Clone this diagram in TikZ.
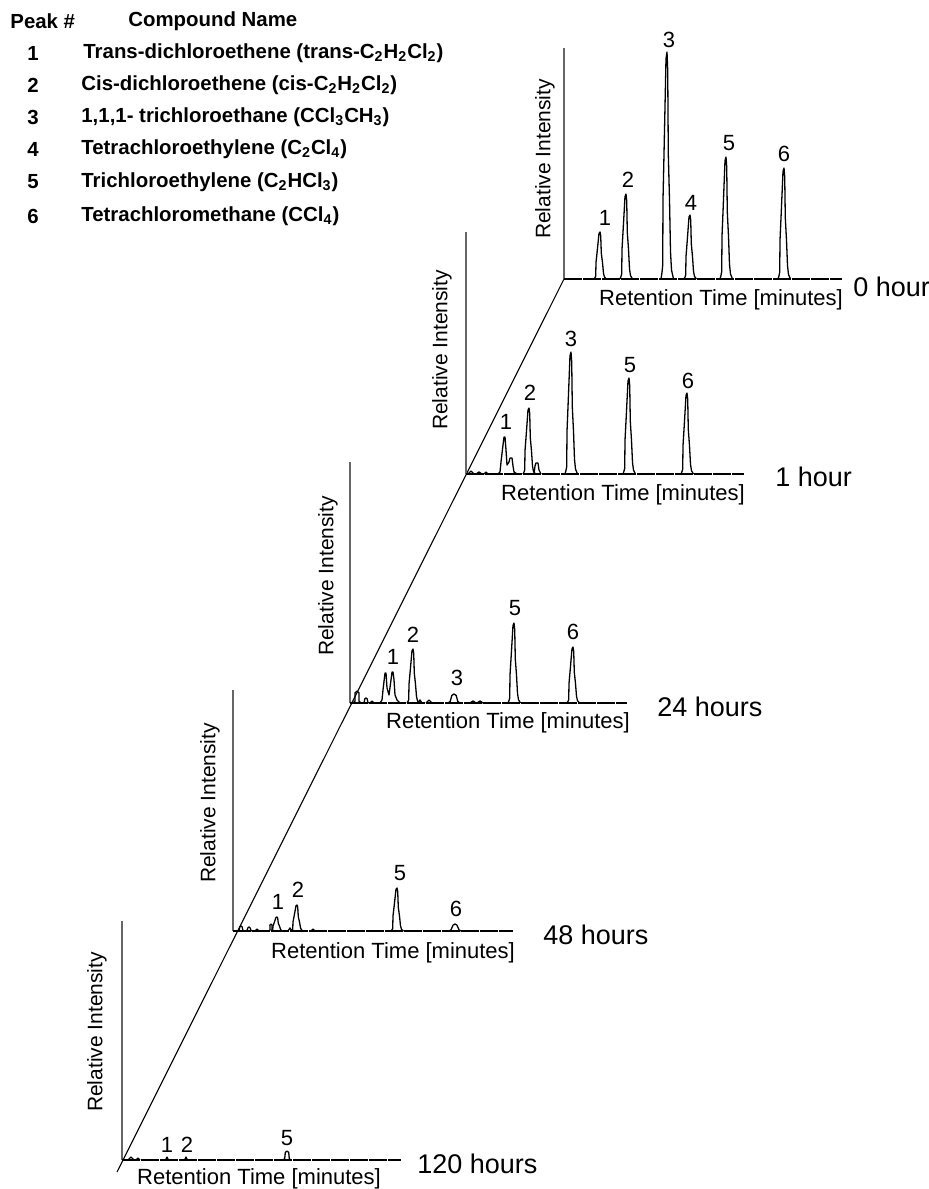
\documentclass[tikz,border=0pt]{standalone}
\usepackage{fontspec}
\setmainfont{Liberation Sans}
\begin{document}
\begin{tikzpicture}[x=0.5pt,y=-0.5pt,
  pkline/.style={line width=0.65pt, line join=round},
  vaxis/.style={line width=0.6pt, black!60},
  haxis/.style={line width=0.6pt, dash pattern=on 9pt off 0.5pt},
  diag/.style={line width=0.55pt},
  plabel/.style={font=\fontsize{11}{12}\selectfont, inner sep=0pt},
  rlabel/.style={font=\fontsize{10.5}{12}\selectfont, inner sep=0pt, rotate=90},
  tlabel/.style={font=\fontsize{11}{13}\selectfont, inner sep=0pt},
  hlabel/.style={font=\fontsize{13.5}{15}\selectfont, inner sep=0pt, anchor=west},
  legend/.style={font=\bfseries\fontsize{10.2}{12}\selectfont, inner sep=0pt, anchor=west},
  legnum/.style={font=\bfseries\fontsize{10.2}{12}\selectfont, inner sep=0pt},
  pics/peak/.style={code={
    \draw[pkline] (-6,0) -- (-5,{-0.03*#1}) -- (-4.3,{-0.06*#1}) -- (-4,{-0.35*#1})
      -- (-3,{-0.55*#1}) -- (-1,{-0.97*#1}) -- (0,{-#1}) -- (0.7,{-0.92*#1})
      -- (1.3,{-0.55*#1}) -- (2.5,{-0.35*#1}) -- (3.5,{-0.12*#1}) -- (4.5,{-0.04*#1}) -- (6.5,0);
  }},
  pics/bump/.style n args={2}{code={
    \draw[pkline] (-#2,0) to[out=0,in=180] (0,-#1) to[out=0,in=180] (#2,0);
  }}
]
\useasboundingbox (0,0) rectangle (929,1189);

% ---------- legend ----------
\node[legend] (hpk) at (10,21) {Peak \#};
\node[legend] (hcn) at (128,21) {Compound Name};
\node[legnum] (n1) at (33,53) {1};
\node[legnum] (n2) at (33,85) {2};
\node[legnum] (n3) at (33,117) {3};
\node[legnum] (n4) at (33,149) {4};
\node[legnum] (n5) at (33,182) {5};
\node[legnum] (n6) at (33,216) {6};
\node[legend] (c1) at (83,53) {Trans-dichloroethene (trans-C\textsubscript{2}H\textsubscript{2}Cl\textsubscript{2})};
\node[legend] (c2) at (81,85) {Cis-dichloroethene (cis-C\textsubscript{2}H\textsubscript{2}Cl\textsubscript{2})};
\node[legend] (c3) at (81,117) {1,1,1- trichloroethane (CCl\textsubscript{3}CH\textsubscript{3})};
\node[legend] (c4) at (81,149) {Tetrachloroethylene (C\textsubscript{2}Cl\textsubscript{4})};
\node[legend] (c5) at (81,182) {Trichloroethylene (C\textsubscript{2}HCl\textsubscript{3})};
\node[legend] (c6) at (81,216) {Tetrachloromethane (CCl\textsubscript{4})};

% ---------- diagonal time axis ----------
\coordinate (o0) at (564,279);
\coordinate (dend) at (117,1172);
\draw[diag] (o0) -- (dend);

% ---------- 0 hour ----------
\coordinate (a0) at (564,48);
\coordinate (e0) at (842,279);
\draw[vaxis] (o0) -- (a0);
\draw[haxis] (o0) -- (e0);
\pic at (600,279) {peak=47};
\pic at (626,279) {peak=85};
\pic at (667,279) {peak=227};
\pic at (690,279) {peak=64};
\pic at (726,279) {peak=122};
\pic at (784,279) {peak=111};
\node[plabel] (l01) at (605,218) {1};
\node[plabel] (l02) at (628,180) {2};
\node[plabel] (l03) at (669,40) {3};
\node[plabel] (l04) at (691,203) {4};
\node[plabel] (l05) at (729,143) {5};
\node[plabel] (l06) at (784,154) {6};
\node[rlabel] (r0) at (545,159) {Relative Intensity};
\node[tlabel] (t0) at (721,300) {Retention Time [minutes]};
\node[hlabel] (h0) at (853,287) {0 hour};

% ---------- 1 hour ----------
\coordinate (o1) at (466,474);
\coordinate (a1) at (466,232);
\coordinate (e1) at (744,474);
\draw[vaxis] (o1) -- (a1);
\draw[haxis] (o1) -- (e1);
\pic at (471,474) {bump={3}{3}};
\pic at (479,474) {bump={2}{3}};
\pic at (486,474) {bump={2}{2}};
\draw[pkline] (498,474) -- (500,472) -- (501,462) -- (503,445) -- (504,437) -- (505,437)
  -- (506,450) -- (507,465) -- (509,462) -- (510,458) -- (512,458) -- (513,466) -- (514,472) -- (517,474);
\pic at (529,474) {peak=66};
\draw[pkline] (534,474) -- (535,466) -- (536,463) -- (538,463) -- (539,470) -- (541,474);
\pic at (571,474) {peak=122};
\pic at (629,474) {peak=96};
\pic at (687,474) {peak=81};
\node[plabel] (l11) at (506,422) {1};
\node[plabel] (l12) at (530,393) {2};
\node[plabel] (l13) at (571,339) {3};
\node[plabel] (l15) at (630,365) {5};
\node[plabel] (l16) at (688,381) {6};
\node[rlabel] (r1) at (442,350) {Relative Intensity};
\node[tlabel] (t1) at (623,495) {Retention Time [minutes]};
\node[hlabel] (h1) at (775,477) {1 hour};

% ---------- 24 hours ----------
\coordinate (o2) at (350,703);
\coordinate (a2) at (350,462);
\coordinate (e2) at (627,703);
\draw[vaxis] (o2) -- (a2);
\draw[haxis] (o2) -- (e2);
\pic at (357,703) {bump={12}{4}};
\pic at (366,703) {bump={5}{3}};
\pic at (372,703) {bump={2}{2}};
\draw[pkline] (380,703) -- (382,700) -- (383,690) -- (385,673) -- (386,673) -- (387,688)
  -- (389,695) -- (391,680) -- (392,672) -- (393,672) -- (394,680) -- (395,695) -- (397,700) -- (400,703);
\pic at (413,703) {peak=54};
\pic at (420,703) {bump={3}{2}};
\pic at (429,703) {bump={3}{3}};
\pic at (454,703) {bump={9}{6}};
\pic at (473,703) {bump={2}{3}};
\pic at (480,703) {bump={2}{3}};
\pic at (514,703) {peak=80};
\pic at (573,703) {peak=56};
\node[plabel] (l21) at (393,657) {1};
\node[plabel] (l22) at (413,635) {2};
\node[plabel] (l23) at (457,678) {3};
\node[plabel] (l25) at (515,608) {5};
\node[plabel] (l26) at (573,632) {6};
\node[rlabel] (r2) at (328,576) {Relative Intensity};
\node[tlabel] (t2) at (508,723) {Retention Time [minutes]};
\node[hlabel] (h2) at (657,707) {24 hours};

% ---------- 48 hours ----------
\coordinate (o3) at (233,931);
\coordinate (a3) at (233,690);
\coordinate (e3) at (513,931);
\draw[vaxis] (o3) -- (a3);
\draw[haxis] (o3) -- (e3);
\pic at (241,931) {bump={5}{3}};
\pic at (249,931) {bump={4}{3}};
\pic at (257,931) {bump={2}{2}};
\pic at (271,931) {bump={7}{2}};
\pic at (277,931) {peak=14};
\pic at (290,931) {bump={3}{2}};
\pic at (297,931) {peak=26};
\pic at (313,931) {bump={2}{2}};
\pic at (397,931) {peak=43};
\pic at (455,931) {bump={7}{6}};
\node[plabel] (l31) at (278,902) {1};
\node[plabel] (l32) at (298,890) {2};
\node[plabel] (l35) at (400,873) {5};
\node[plabel] (l36) at (456,909) {6};
\node[rlabel] (r3) at (210,803) {Relative Intensity};
\node[tlabel] (t3) at (393,953) {Retention Time [minutes]};
\node[hlabel] (h3) at (543,935) {48 hours};

% ---------- 120 hours ----------
\coordinate (o4) at (122,1160);
\coordinate (a4) at (122,921);
\coordinate (e4) at (401,1160);
\draw[vaxis] (o4) -- (a4);
\draw[haxis] (o4) -- (e4);
\pic at (131,1160) {bump={3}{3}};
\pic at (138,1160) {bump={2}{2}};
\pic at (167,1160) {bump={3}{1.5}};
\pic at (186,1160) {bump={3}{1.5}};
\pic at (287,1160) {bump={9}{4}};
\node[plabel] (l41) at (167,1145) {1};
\node[plabel] (l42) at (187,1145) {2};
\node[plabel] (l45) at (287,1138) {5};
\node[rlabel] (r4) at (97,1032) {Relative Intensity};
\node[tlabel] (t4) at (259,1179) {Retention Time [minutes]};
\node[hlabel] (h4) at (417,1164) {120 hours};
\end{tikzpicture}
\end{document}
